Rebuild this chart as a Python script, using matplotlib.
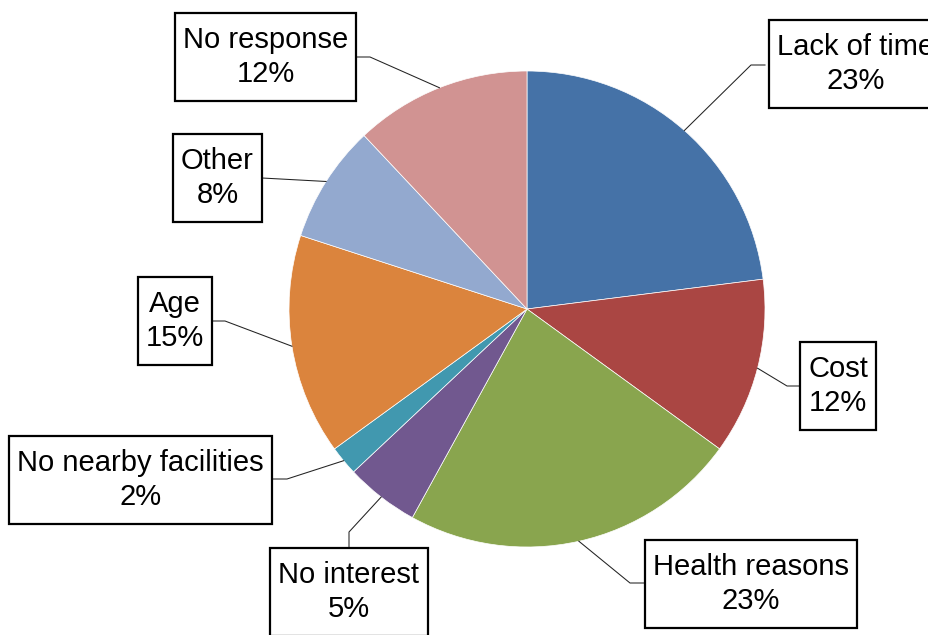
import numpy as np
import matplotlib
matplotlib.use("Agg")
import matplotlib.pyplot as plt
from matplotlib.patches import Rectangle

plt.rcParams["font.family"] = ["Liberation Sans", "DejaVu Sans"]

# data, clockwise from 12 o'clock
categories = ["Lack of time", "Cost", "Health reasons", "No interest",
              "No nearby facilities", "Age", "Other", "No response"]
shares = [23, 12, 23, 5, 2, 15, 8, 12]
colors = ["#4572A7", "#AA4643", "#89A54E", "#71588F",
          "#4198AF", "#DB843D", "#93A9CF", "#D19392"]

# layout in pixels (y grows downwards)
W, H = 929, 635
CENTER = (527, 309)
RADIUS = 238
PAD_X, PAD_Y = 8, 13
label_pos = [(855.5, 64), (838, 386), (751, 584), (349, 592),
             (140.5, 480), (175, 321), (217.5, 178), (265.5, 57)]
# (box attach point, elbow point) for each leader line
leaders = [((765, 65), (751, 65)), ((800, 386), (787, 386)),
           ((645, 583), (630, 583)), ((349, 547), (349, 532)),
           ((272, 479), (287, 479)), ((212, 321), (225, 321)),
           ((262, 178), (262, 178)), ((356, 57), (370, 57))]

fig = plt.figure(figsize=(W / 100, H / 100), dpi=100)
ax = fig.add_axes([0, 0, 1, 1])

# y axis is inverted, so counterclock in data space draws clockwise on screen
wedges, _ = ax.pie(shares, colors=colors, startangle=-90, counterclock=True,
                   center=CENTER, radius=RADIUS,
                   wedgeprops=dict(edgecolor="white", linewidth=0.5))

ax.set_xlim(0, W)
ax.set_ylim(H, 0)
ax.set_aspect("equal")
ax.axis("off")

texts = []
for w, name, share, (tx, ty), (attach, elbow) in zip(wedges, categories, shares, label_pos, leaders):
    mid = np.deg2rad((w.theta1 + w.theta2) / 2)
    ex = CENTER[0] + RADIUS * np.cos(mid)
    ey = CENTER[1] + RADIUS * np.sin(mid)
    ax.plot([attach[0], elbow[0], ex], [attach[1], elbow[1], ey],
            color="#222222", linewidth=0.75, zorder=3)
    texts.append(ax.text(tx, ty, f"{name}\n{share}%", ha="center", va="center",
                         fontsize=21, linespacing=1.31, zorder=5))

# white boxes sized from the rendered text
fig.canvas.draw()
renderer = fig.canvas.get_renderer()
inv = ax.transData.inverted()
for t in texts:
    bb = t.get_window_extent(renderer)
    (x0, y0), (x1, y1) = inv.transform([(bb.x0 - PAD_X, bb.y0 - PAD_Y),
                                        (bb.x1 + PAD_X, bb.y1 + PAD_Y)])
    ax.add_patch(Rectangle((min(x0, x1), min(y0, y1)), abs(x1 - x0), abs(y1 - y0),
                           facecolor="white", edgecolor="black",
                           linewidth=1.6, zorder=4))

fig.savefig("out.png", dpi=100)
